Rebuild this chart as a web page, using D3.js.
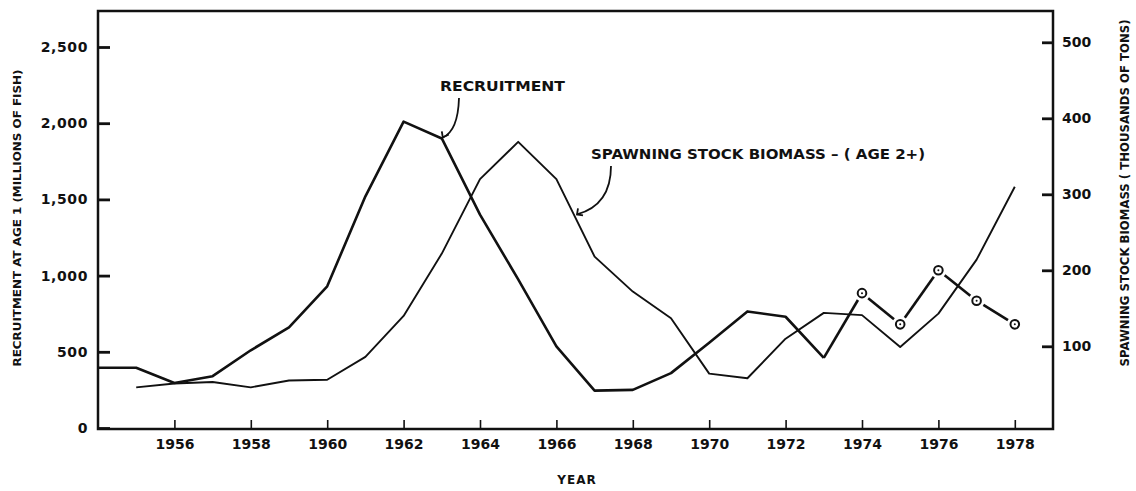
<!DOCTYPE html>
<html>
<head>
<meta charset="utf-8">
<script src="https://cdn.jsdelivr.net/npm/d3@7"></script>
<style>
  body { margin: 0; background: #fff; }
  text { font-family: "DejaVu Sans", sans-serif; font-weight: bold; fill: #111; }
</style>
</head>
<body>
<div class="chart"></div>
<script>
// data
const years = [1954, 1955, 1956, 1957, 1958, 1959, 1960, 1961, 1962, 1963, 1964, 1965, 1966, 1967, 1968, 1969, 1970, 1971, 1972, 1973]
const recruitment = [395, 395, 295, 340, 510, 660, 930, 1520, 2010, 1900, 1400, 975, 535, 245, 250, 360, 560, 765, 730, 460]

// later recruitment estimates (circles)
const estYears = [1974, 1975, 1976, 1977, 1978]
const estRecruitment = [885, 680, 1035, 835, 680]

// spawning stock biomass, thousands of tons
const ssbYears = [1955, 1956, 1957, 1958, 1959, 1960, 1961, 1962, 1963, 1964, 1965, 1966, 1967, 1968, 1969, 1970, 1971, 1972, 1973, 1974, 1975, 1976, 1977, 1978]
const ssb = [46, 51, 53, 46, 55, 56, 86, 140, 222, 320, 369, 320, 218, 172, 137, 64, 58, 110, 144, 141, 99, 143, 214, 310]

const xTicks = [1956, 1958, 1960, 1962, 1964, 1966, 1968, 1970, 1972, 1974, 1976, 1978]
const leftTicks = [0, 500, 1000, 1500, 2000, 2500]
const rightTicks = [100, 200, 300, 400, 500]

const w = 1136
const h = 491

const svg = d3.select(".chart")
  .append("svg")
    .attr("width", w)
    .attr("height", h)

const x = d3.scaleLinear().domain([1954, 1979]).range([98, 1053])
const yL = d3.scaleLinear().domain([0, 2500]).range([428, 47])
const yR = d3.scaleLinear().domain([0, 500]).range([422.3, 42.3])

// frame
svg.append("rect")
  .attr("x", 98).attr("y", 11)
  .attr("width", 1053 - 98).attr("height", 429 - 11)
  .attr("fill", "none")
  .attr("stroke", "#111")
  .attr("stroke-width", 2.5)

// axes
const fmt = d3.format(",")
const gx = svg.append("g")
  .attr("transform", "translate(0,429)")
  .call(d3.axisBottom(x).tickValues(xTicks).tickFormat(d3.format("d")).tickSize(-9).tickPadding(10))
const gl = svg.append("g")
  .attr("transform", "translate(98,0)")
  .call(d3.axisLeft(yL).tickValues(leftTicks).tickFormat(fmt).tickSize(-12).tickPadding(10))
const gr = svg.append("g")
  .attr("transform", "translate(1053,0)")
  .call(d3.axisRight(yR).tickValues(rightTicks).tickSize(-11).tickPadding(9))

for (const g of [gx, gl, gr]) {
  g.select(".domain").remove()
  g.selectAll("text").style("font-size", "14px").style("font-family", "DejaVu Sans").style("font-weight", "bold").attr("fill", "#111")
}
gl.selectAll("text").style("letter-spacing", "0.6px")
gx.selectAll("line").attr("stroke", "#111").attr("stroke-width", 1.6)
gl.selectAll("line").attr("stroke", "#111").attr("stroke-width", 2.8)
gr.selectAll("line").attr("stroke", "#111").attr("stroke-width", 2.8)

// axis titles
svg.append("text")
  .attr("transform", "translate(21,218) rotate(-90)")
  .attr("text-anchor", "middle")
  .attr("textLength", 297)
  .attr("lengthAdjust", "spacingAndGlyphs")
  .style("font-size", "11px")
  .text("RECRUITMENT AT AGE 1 (MILLIONS OF FISH)")

svg.append("text")
  .attr("transform", "translate(1129,193) rotate(-90)")
  .attr("text-anchor", "middle")
  .attr("textLength", 347)
  .attr("lengthAdjust", "spacingAndGlyphs")
  .style("font-size", "12px")
  .text("SPAWNING STOCK BIOMASS ( THOUSANDS OF TONS)")

svg.append("text")
  .attr("x", 577).attr("y", 484)
  .attr("text-anchor", "middle")
  .style("font-size", "12px")
  .style("letter-spacing", "1px")
  .text("YEAR")

// lines
const recData = years.map((d, i) => [d, recruitment[i]])
const ssbData = ssbYears.map((d, i) => [d, ssb[i]])

svg.append("path")
  .datum(ssbData)
  .attr("fill", "none")
  .attr("stroke", "#111")
  .attr("stroke-width", 1.9)
  .attr("stroke-linejoin", "round")
  .attr("d", d3.line().x(d => x(d[0])).y(d => yR(d[1])))

svg.append("path")
  .datum(recData)
  .attr("fill", "none")
  .attr("stroke", "#111")
  .attr("stroke-width", 2.6)
  .attr("stroke-linejoin", "round")
  .attr("d", d3.line().x(d => x(d[0])).y(d => yL(d[1])))

// broken segments to the circled estimates
const estData = estYears.map((d, i) => [d, estRecruitment[i]])
const chain = [recData[recData.length - 1]].concat(estData)
const gap = 8
for (let i = 0; i < chain.length - 1; i++) {
  const x0 = x(chain[i][0]), y0 = yL(chain[i][1])
  const x1 = x(chain[i + 1][0]), y1 = yL(chain[i + 1][1])
  const len = Math.hypot(x1 - x0, y1 - y0)
  const ux = (x1 - x0) / len, uy = (y1 - y0) / len
  const g0 = i === 0 ? 0 : gap
  svg.append("line")
    .attr("x1", x0 + ux * g0).attr("y1", y0 + uy * g0)
    .attr("x2", x1 - ux * gap).attr("y2", y1 - uy * gap)
    .attr("stroke", "#111")
    .attr("stroke-width", 2.6)
}

svg.append("g")
  .selectAll("circle")
  .data(estData)
  .join("circle")
    .attr("cx", d => x(d[0]))
    .attr("cy", d => yL(d[1]))
    .attr("r", 4.3)
    .attr("fill", "#fff")
    .attr("stroke", "#111")
    .attr("stroke-width", 2)
svg.append("g")
  .selectAll("circle")
  .data(estData)
  .join("circle")
    .attr("cx", d => x(d[0]))
    .attr("cy", d => yL(d[1]))
    .attr("r", 1)
    .attr("fill", "#111")

// labels with curved leaders
svg.append("text")
  .attr("x", 440).attr("y", 91)
  .attr("textLength", 125)
  .attr("lengthAdjust", "spacingAndGlyphs")
  .style("font-size", "14px")
  .text("RECRUITMENT")

const rx = x(1963) + 1, ry = yL(1900) - 1
svg.append("path")
  .attr("d", `M459,98 Q458,131 ${rx},${ry}`)
  .attr("fill", "none").attr("stroke", "#111").attr("stroke-width", 1.8)
svg.append("path")
  .attr("d", `M${rx - 1},${ry - 6} L${rx},${ry} L${rx + 6},${ry - 3}`)
  .attr("fill", "none").attr("stroke", "#111").attr("stroke-width", 1.8)

svg.append("text")
  .attr("x", 591).attr("y", 159)
  .attr("textLength", 334)
  .attr("lengthAdjust", "spacingAndGlyphs")
  .style("font-size", "14px")
  .text("SPAWNING STOCK BIOMASS \u2013 ( AGE 2+)")

const sx = 577, sy = yR(d3.interpolateNumber(320, 218)(0.52)) - 5
svg.append("path")
  .attr("d", `M611,166 Q611,205 ${sx},${sy}`)
  .attr("fill", "none").attr("stroke", "#111").attr("stroke-width", 1.8)
svg.append("path")
  .attr("d", `M${sx + 1},${sy - 6} L${sx},${sy} L${sx + 6},${sy + 1}`)
  .attr("fill", "none").attr("stroke", "#111").attr("stroke-width", 1.8)
</script>
</body>
</html>
